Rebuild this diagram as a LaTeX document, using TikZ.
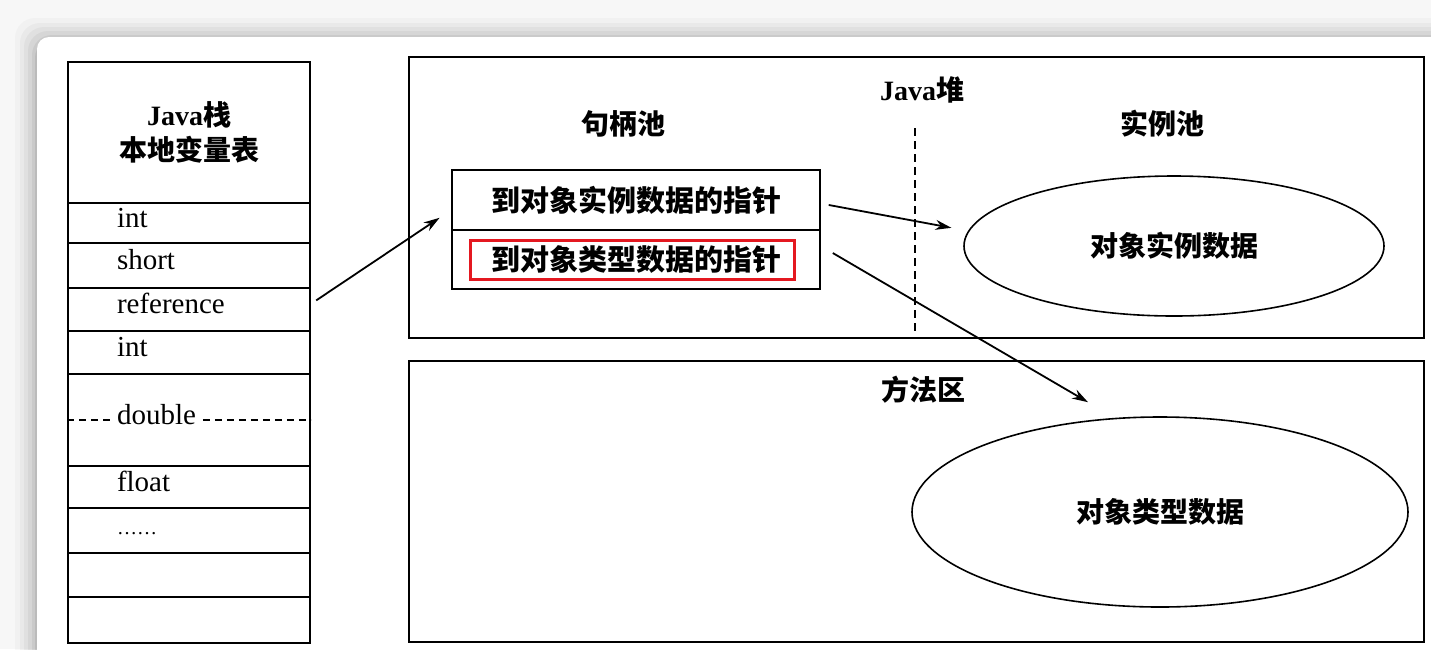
\documentclass[tikz,border=0pt]{standalone}
\usepackage{fontspec}
\setmainfont{Liberation Serif}
\newfontfamily\cjk{Noto Sans CJK SC}
\usetikzlibrary{shapes.geometric,arrows.meta}
\definecolor{markred}{RGB}{228,24,32}

\tikzset{
  frame/.style={draw, line width=1.6pt},
  cell/.style={frame, minimum width=242pt, inner xsep=49pt, inner ysep=0pt,
    text width=144pt, align=left, text height=20pt, text depth=12pt,
    font=\fontsize{29}{31}\selectfont},
  ptr/.style={frame, minimum width=368pt, inner sep=0pt,
    font=\cjk\bfseries\fontsize{29}{31}\selectfont},
  pool/.style={frame, ellipse, inner sep=0pt,
    font=\cjk\bfseries\fontsize{28}{30}\selectfont},
  title/.style={inner sep=0pt, font=\cjk\bfseries\fontsize{28}{30}\selectfont},
  arr/.style={line width=1.8pt, -{Stealth[length=16pt,width=10pt]}},
}

\begin{document}
\begin{tikzpicture}[x=1pt,y=-1pt]
  \useasboundingbox (0,0) rectangle (1431,649);
  \clip (0,0) rectangle (1431,649);

  % 背景和卡片
  \fill[gray!6] (0,0) rectangle (1431,649);
  \foreach \s/\o in {22/0.025, 17/0.03, 13/0.035, 9/0.045, 5/0.055, 2/0.07}
    \fill[black, opacity=\o, rounded corners=20pt] (37-\s,37-\s+3) rectangle (1470+\s,700);
  \fill[white, rounded corners=12pt] (37,37) rectangle (1470,700);

  % Java栈 本地变量表
  \node[frame, minimum width=242pt, minimum height=141pt, inner sep=0pt, align=center,
        font=\fontsize{28}{35}\selectfont] (hdr) at (189,132.5)
        {\bfseries Java{\cjk 栈}\\{\cjk\bfseries 本地变量表}};
  \node[cell, minimum height=40pt] (r1) at (189,223) {int};
  \node[cell, minimum height=45pt] (r2) at (189,265.5) {short};
  \node[cell, minimum height=43pt] (r3) at (189,309.5) {reference};
  \node[cell, minimum height=43pt] (r4) at (189,352.5) {int};
  \node[cell, minimum height=92pt] (r5) at (189,420) {double};
  \node[cell, minimum height=42pt] (r6) at (189,487) {float};
  \node[cell, minimum height=45pt] (r7) at (189,530.5) {{\fontsize{20}{20}\selectfont ……}};
  \node[cell, minimum height=44pt] (r8) at (189,575) {};
  \node[cell, minimum height=46pt] (r9) at (189,620) {};
  \draw[line width=1.3pt, dash pattern=on 7pt off 5pt] (r5.west) -- ++(44,0);
  \draw[line width=1.3pt, dash pattern=on 7pt off 5pt] ([xshift=-108pt]r5.east) -- (r5.east);

  % Java堆
  \node[frame, minimum width=1015pt, minimum height=281pt, inner sep=0pt] (heap) at (916.5,197.5) {};
  \node[title] (heaplbl) at (922,90) {\rmfamily Java{\cjk 堆}};
  \node[title] (hpool) at (623,124) {句柄池};
  \node[title] (ipool) at (1162,124) {实例池};
  \coordinate (cut1) at (915,128);
  \coordinate (cut2) at (915,334);
  \draw[line width=1.3pt, dash pattern=on 8pt off 5pt] (cut1) -- (cut2);

  \node[ptr, minimum height=60pt] (p1) at (636,200) {到对象实例数据的指针};
  \node[ptr, minimum height=59pt] (p2) at (636,259.5) {到对象类型数据的指针};
  \node[draw=markred, line width=3pt, minimum width=324pt, minimum height=39pt] (mark) at (632,259.5) {};

  \node[pool, minimum width=420pt, minimum height=140pt] (e1) at (1174,246) {对象实例数据};

  % 方法区
  \node[frame, minimum width=1015pt, minimum height=281pt, inner sep=0pt] (meth) at (916.5,501.5) {};
  \node[title] (methlbl) at (923,390) {方法区};
  \node[pool, minimum width=496pt, minimum height=190pt] (e2) at (1160,512) {对象类型数据};

  % 引用
  \draw[arr, shorten <=6.5pt, shorten >=14pt] ([yshift=5.5pt]r3.east) -- ([yshift=-10pt]p1.west);
  \draw[arr, shorten <=8pt, shorten >=12pt] ([yshift=-3.5pt]p1.east) -- ([yshift=16pt]e1.west);
  \draw[arr, shorten <=13.9pt] ([yshift=13.5pt]p2.east) -- ([xshift=-72pt,yshift=14pt]e2.north);
\end{tikzpicture}
\end{document}
